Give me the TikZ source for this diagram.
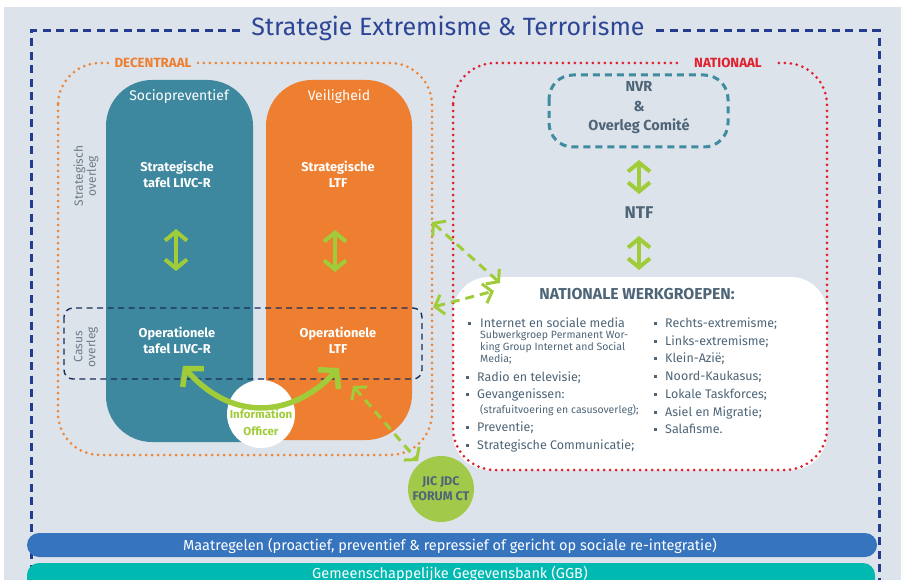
\documentclass[tikz,border=0pt]{standalone}
\usepackage{fontspec}
\setmainfont{Fira Sans}
\usetikzlibrary{arrows.meta}
\definecolor{bg}{HTML}{DCE3EA}
\definecolor{navy}{HTML}{233C8E}
\definecolor{titlec}{HTML}{2D4596}
\definecolor{orng}{HTML}{EE7F31}
\definecolor{orngdot}{HTML}{EE8638}
\definecolor{redc}{HTML}{E0202E}
\definecolor{tealbox}{HTML}{3E889F}
\definecolor{grn}{HTML}{A0CC3A}
\definecolor{slate}{HTML}{4E6577}
\definecolor{greyt}{HTML}{6E7C89}
\definecolor{casus}{HTML}{1A2D5A}
\definecolor{nvrc}{HTML}{3F8BA0}
\definecolor{bluebar}{HTML}{3774BE}
\definecolor{tealbar}{HTML}{00B9B0}
\definecolor{jicc}{HTML}{A3C94B}
\begin{document}
\begin{tikzpicture}[x=1pt,y=-1pt,
  navydash/.style={draw=navy,line width=3pt,dash pattern=on 8pt off 5.5pt},
  orangedots/.style={draw=orngdot,line width=3pt,dash pattern=on 0pt off 6pt,line cap=round},
  reddots/.style={draw=redc,line width=3pt,dash pattern=on 0pt off 6pt,line cap=round},
  boxtitle/.style={text=white,font=\fontsize{14}{16}\selectfont},
  boxtext/.style={text=white,font=\bfseries\fontsize{12.8}{16}\selectfont,align=center},
  sidelabel/.style={text=greyt,font=\fontsize{12}{13}\selectfont,align=center,rotate=90},
  greenarrow/.style={draw=grn,line width=4pt,{Straight Barb[length=9pt,width=22pt]}-{Straight Barb[length=9pt,width=22pt]}},
  greendash/.style={draw=grn,line width=3pt,dash pattern=on 9pt off 6pt,{Straight Barb[length=8pt,width=20pt]}-{Straight Barb[length=8pt,width=20pt]}},
  listtext/.style={anchor=base west,text=slate,font=\fontsize{12.5}{14}\selectfont,inner sep=0pt},
  subtext/.style={anchor=base west,text=slate,font=\fontsize{10.5}{12}\selectfont,inner sep=0pt},
  bul/.style={fill=slate,inner sep=0pt,minimum size=3pt,draw=none},
  bartext/.style={text=white,font=\fontsize{14.5}{16}\selectfont}
]
\useasboundingbox (0,0) rectangle (901,580);
\clip (0,0) rectangle (901,580);
\fill[white] (0,0) rectangle (901,580);
\fill[bg] (4,7) rectangle (901,580);

% outer frame
\node[text=titlec,font=\fontsize{25}{28}\selectfont] (title) at (448,28) {Strategie Extremisme \& Terrorisme};
\draw[navydash] (title.west) ++(-8,3) coordinate (tl) -- (31,31) -- (31,600);
\draw[navydash] (title.east) ++(8,3) coordinate (tr) -- (879,31) -- (879,600);

% decentraal
\draw[orangedots,rounded corners=42] (58,63) rectangle (432,455);
\node[fill=bg,inner xsep=6pt,text=orng,font=\bfseries\fontsize{13.3}{14}\selectfont] (dec) at (153,63) {DECENTRAAL};

% nationaal
\fill[white,rounded corners=36] (453,277) rectangle (827,470);
\draw[reddots,rounded corners=42] (453,63) rectangle (827,470);
\node[fill=bg,inner xsep=14pt,text=redc,font=\bfseries\fontsize{13.3}{14}\selectfont] (nat) at (728,63) {NATIONAAL};

% columns
\fill[tealbox] (180,442) [rounded corners=46] -- (106,442) -- (106,80) -- (253,80) -- (253,300) [rounded corners=10] -- (253,442) -- cycle;
\fill[orng] (340,440) [rounded corners=46] -- (412,440) -- (412,80) -- (266,80) -- (266,300) [rounded corners=10] -- (266,440) -- cycle;
\node[boxtitle] (socio) at (179,97) {Sociopreventief};
\node[boxtitle] (veil) at (339,97) {Veiligheid};
\node[boxtext] (stratL) at (177,174) {Strategische\\tafel LIVC-R};
\node[boxtext] (stratR) at (338,174) {Strategische\\LTF};
\node[boxtext] (opL) at (177,340) {Operationele\\tafel LIVC-R};
\node[boxtext] (opR) at (338,340) {Operationele\\LTF};

% casus overleg
\draw[casus,line width=1.4pt,dash pattern=on 6pt off 4.5pt,rounded corners=9] (64,308) rectangle (422,379);
\node[sidelabel] (strov) at (86,176) {Strategisch\\overleg};
\node[sidelabel] (casov) at (86,347) {Casus\\overleg};

\coordinate (aL1) at (176,229); \coordinate (aL2) at (176,271);
\coordinate (aR1) at (335,230); \coordinate (aR2) at (335,272);
\draw[greenarrow] (aL1) -- (aL2);
\draw[greenarrow] (aR1) -- (aR2);

% information officer
\node[circle,fill=white,minimum size=68pt,inner sep=0pt] (io) at (261,414) {};
\node[text=grn,font=\bfseries\fontsize{11.5}{17}\selectfont,align=center] (iot) at (261,422) {Information\\Officer};
\coordinate (cL) at (183,366); \coordinate (cR) at (339,368);
\draw[draw=grn,line width=5.5pt,{Straight Barb[length=12pt,width=28pt]}-{Straight Barb[length=12pt,width=28pt]}] (cL) .. controls (230,420) and (290,420) .. (cR);

% national
\draw[nvrc,line width=3pt,dash pattern=on 7pt off 5pt,rounded corners=24] (549,75) rectangle (728,147);
\node[text=slate,font=\bfseries\fontsize{14.5}{19.5}\selectfont,align=center] (nvr) at (639,108) {NVR\\\&\\Overleg Comité};
\node[text=slate,font=\bfseries\fontsize{17}{20}\selectfont] (ntf) at (639,213) {NTF};
\coordinate (n1) at (639,160); \coordinate (n2) at (639,194);
\coordinate (n3) at (639,236); \coordinate (n4) at (639,270);
\draw[greenarrow] (n1) -- (n2);
\draw[greenarrow] (n3) -- (n4);
\node[text=slate,font=\bfseries\fontsize{15.8}{17}\selectfont] (nwg) at (637,294) {NATIONALE WERKGROEPEN:};

% list left
\node[bul] at (469,323) {};
\node[listtext] (l1) at (480,327) {Internet en sociale media};
\node[subtext] (l1a) at (480,338.5) {Subwerkgroep Permanent Wor-};
\node[subtext] (l1b) at (480,350.5) {king Group Internet and Social};
\node[subtext] (l1c) at (480,362.5) {Media;};
\node[bul] at (467,377) {};
\node[listtext] (l2) at (477,381) {Radio en televisie;};
\node[bul] at (467,394) {};
\node[listtext] (l3) at (477,398) {Gevangenissen:};
\node[subtext] (l3a) at (480,413) {(strafuitvoering en casusoverleg);};
\node[bul] at (467,427) {};
\node[listtext] (l4) at (477,431) {Preventie;};
\node[bul] at (467,445) {};
\node[listtext] (l5) at (477,449) {Strategische Communicatie;};
% list right
\node[bul] at (655,323) {};
\node[listtext] (r1) at (665,327) {Rechts-extremisme;};
\node[bul] at (655,341) {};
\node[listtext] (r2) at (665,345) {Links-extremisme;};
\node[bul] at (655,358) {};
\node[listtext] (r3) at (665,362) {Klein-Azië;};
\node[bul] at (655,376) {};
\node[listtext] (r4) at (665,380) {Noord-Kaukasus;};
\node[bul] at (655,394) {};
\node[listtext] (r5) at (665,398) {Lokale Taskforces;};
\node[bul] at (655,412) {};
\node[listtext] (r6) at (665,416) {Asiel en Migratie;};
\node[bul] at (655,429) {};
\node[listtext] (r7) at (665,433) {Salafisme.};

% JIC
\node[circle,fill=jicc,minimum size=66pt,inner sep=0pt,text=slate,font=\bfseries\fontsize{12.5}{15}\selectfont,align=center] (jic) at (441,489) {JIC JDC\\FORUM CT};

% dashed connectors
\coordinate (d1a) at (432,222); \coordinate (d1b) at (500,283);
\coordinate (d2a) at (433,307); \coordinate (d2b) at (494,291);
\coordinate (d3a) at (353,386); \coordinate (d3b) at (418,461);
\draw[greendash] (d1a) -- (d1b);
\draw[greendash] (d2a) -- (d2b);
\draw[greendash] (d3a) -- (d3b);

% bars
\fill[bluebar,rounded corners=12] (27,533) rectangle (877,557);
\node[bartext] (maat) at (450,545.5) {Maatregelen (proactief, preventief \& repressief of gericht op sociale re-integratie)};
\fill[tealbar,rounded corners=12] (27,563) rectangle (875,595);
\node[bartext,anchor=base] (ggb) at (450,578) {Gemeenschappelijke Gegevensbank (GGB)};
\end{tikzpicture}
\end{document}
